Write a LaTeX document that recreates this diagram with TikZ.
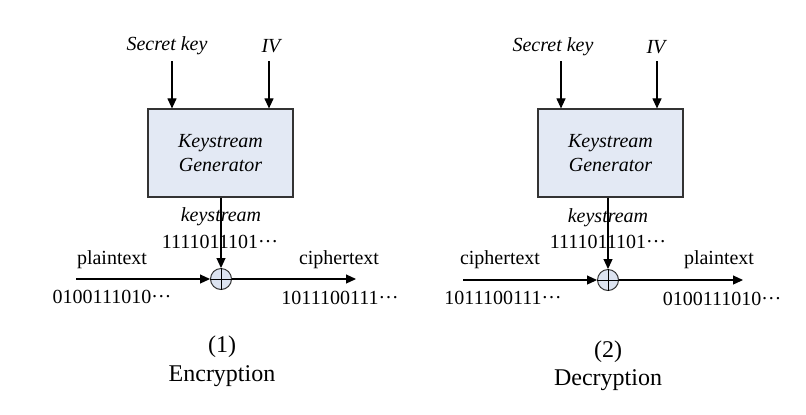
\documentclass[tikz,border=0pt]{standalone}
\usepackage{fontspec}
\setmainfont{Liberation Serif}
\usetikzlibrary{arrows.meta}
\definecolor{boxfill}{HTML}{E3E9F4}
\definecolor{xorfill}{HTML}{DCE3F0}
\definecolor{edge}{HTML}{333333}
\newcommand{\mydots}{\raisebox{0.28em}{…}}
\tikzset{
  lbl/.style={inner sep=0pt, font=\fontsize{10pt}{12pt}\selectfont},
  ilbl/.style={lbl, font=\fontsize{10pt}{12pt}\selectfont\itshape},
  captxt/.style={inner sep=0pt, align=center, font=\fontsize{12pt}{14.5pt}\selectfont},
  kbox/.style={draw=edge, line width=0.6pt, fill=boxfill, minimum width=72.5pt, minimum height=44pt, align=center, inner sep=0pt, font=\fontsize{10pt}{12pt}\selectfont\itshape},
  xorc/.style={circle, draw=edge, line width=0.5pt, fill=xorfill, minimum size=10.5pt, inner sep=0pt},
  arr/.style={line width=0.55pt, -{Triangle[length=5pt,width=4.5pt]}},
  ln/.style={line width=0.5pt}
}
\begin{document}
\begin{tikzpicture}[x=0.5pt,y=-0.5pt]
\useasboundingbox (0,0) rectangle (806,414);
% ---------- Encryption ----------
\node[ilbl] (sk1) at (167,46) {Secret key};
\node[ilbl] (iv1) at (271,46) {IV};
\node[kbox] (kg1) at (220.5,153) {Keystream\\Generator};
\coordinate (sks1) at (172,61);
\coordinate (ivs1) at (269,61);
\draw[arr] (sks1) -- (sks1 |- kg1.north);
\draw[arr] (ivs1) -- (ivs1 |- kg1.north);
\node[xorc] (x1) at (221,279) {};
\draw[ln] (x1.north) -- (x1.south) (x1.west) -- (x1.east);
\draw[arr] (kg1.south -| x1) -- (x1.north);
\node[ilbl] (ks1) at (221,217) {keystream};
\node[lbl] (kb1) at (220,242) {1111011101\mydots};
\coordinate (in1) at (76,279);
\coordinate (out1) at (356,279);
\draw[arr] (in1) -- (x1.west);
\draw[arr] (x1.east) -- (out1);
\node[lbl] (pt1) at (112,260) {plaintext};
\node[lbl] (pb1) at (112,297) {0100111010\mydots};
\node[lbl] (ct1) at (339,260) {ciphertext};
\node[lbl] (cb1) at (340,298) {1011100111\mydots};
\node[captxt] (n1) at (222,347) {(1)};
\node[captxt] (e1) at (222,376) {Encryption};
% ---------- Decryption ----------
\node[ilbl] (sk2) at (553,47) {Secret key};
\node[ilbl] (iv2) at (656,47) {IV};
\node[kbox] (kg2) at (610.5,153) {Keystream\\Generator};
\coordinate (sks2) at (561,61);
\coordinate (ivs2) at (657,61);
\draw[arr] (sks2) -- (sks2 |- kg2.north);
\draw[arr] (ivs2) -- (ivs2 |- kg2.north);
\node[xorc] (x2) at (608,280) {};
\draw[ln] (x2.north) -- (x2.south) (x2.west) -- (x2.east);
\draw[arr] (kg2.south -| x2) -- (x2.north);
\node[ilbl] (ks2) at (608,218) {keystream};
\node[lbl] (kb2) at (608,242) {1111011101\mydots};
\coordinate (in2) at (463,280);
\coordinate (out2) at (743,280);
\draw[arr] (in2) -- (x2.west);
\draw[arr] (x2.east) -- (out2);
\node[lbl] (ct2) at (500,260) {ciphertext};
\node[lbl] (cb2) at (503,298) {1011100111\mydots};
\node[lbl] (pt2) at (719,260) {plaintext};
\node[lbl] (pb2) at (722,299) {0100111010\mydots};
\node[captxt] (n2) at (608,352) {(2)};
\node[captxt] (e2) at (608,380) {Decryption};
\end{tikzpicture}
\end{document}
